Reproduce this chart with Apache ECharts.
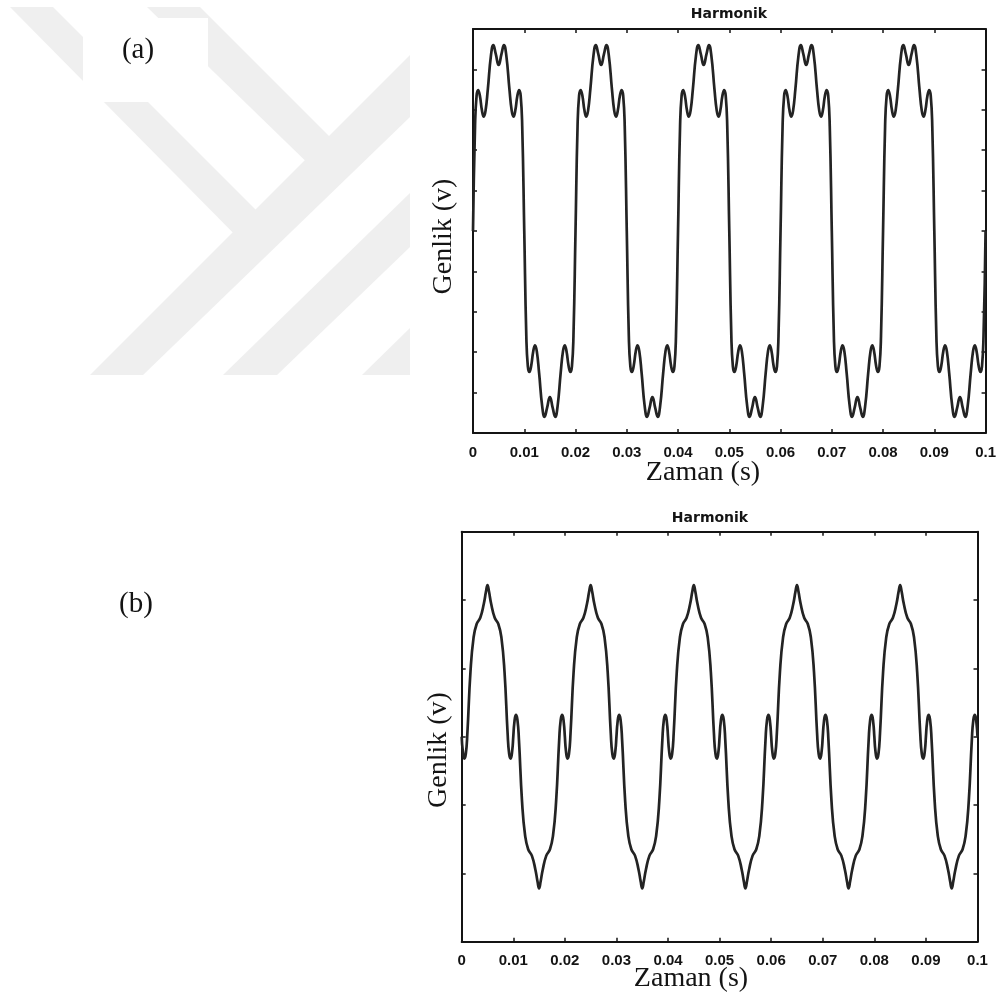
<!DOCTYPE html>
<html>
<head>
<meta charset="utf-8">
<script src="https://cdn.jsdelivr.net/npm/echarts@6/dist/echarts.min.js"></script>
<style>
  html, body { margin: 0; padding: 0; background: #ffffff; }
  #chart { width: 999px; height: 998px; }
</style>
</head>
<body>
<div id="chart"></div>
<script>
// Time-axis tick labels (seconds)
const zamanEtiketleri = ['0', '0.01', '0.02', '0.03', '0.04', '0.05', '0.06', '0.07', '0.08', '0.09', '0.1'];

// (a) harmonic signal: [time (s), amplitude]
const sinyalA = [
  [0,0],[0.0004,2.6],[0.0007,3.35],[0.001,3.49],[0.00135,3.34],[0.00175,2.98],[0.0021,2.83],[0.00245,2.98],[0.0029,3.52],[0.0035,4.34],[0.00396,4.6],[0.00445,4.38],[0.005,4.11],[0.00555,4.38],[0.00604,4.6],[0.0065,4.34],[0.0071,3.52],[0.00755,2.98],[0.0079,2.83],[0.00825,2.98],[0.00865,3.34],[0.009,3.49],[0.0093,3.35],[0.0096,2.6],
  [0.01,0],[0.0104,-2.6],[0.0107,-3.35],[0.011,-3.49],[0.01135,-3.34],[0.01175,-2.98],[0.0121,-2.83],[0.01245,-2.98],[0.0129,-3.52],[0.0135,-4.34],[0.01396,-4.6],[0.01445,-4.38],[0.015,-4.11],[0.01555,-4.38],[0.01604,-4.6],[0.0165,-4.34],[0.0171,-3.52],[0.01755,-2.98],[0.0179,-2.83],[0.01825,-2.98],[0.01865,-3.34],[0.019,-3.49],[0.0193,-3.35],[0.0196,-2.6],
  [0.02,0],[0.0204,2.6],[0.0207,3.35],[0.021,3.49],[0.02135,3.34],[0.02175,2.98],[0.0221,2.83],[0.02245,2.98],[0.0229,3.52],[0.0235,4.34],[0.02396,4.6],[0.02445,4.38],[0.025,4.11],[0.02555,4.38],[0.02604,4.6],[0.0265,4.34],[0.0271,3.52],[0.02755,2.98],[0.0279,2.83],[0.02825,2.98],[0.02865,3.34],[0.029,3.49],[0.0293,3.35],[0.0296,2.6],
  [0.03,0],[0.0304,-2.6],[0.0307,-3.35],[0.031,-3.49],[0.03135,-3.34],[0.03175,-2.98],[0.0321,-2.83],[0.03245,-2.98],[0.0329,-3.52],[0.0335,-4.34],[0.03396,-4.6],[0.03445,-4.38],[0.035,-4.11],[0.03555,-4.38],[0.03604,-4.6],[0.0365,-4.34],[0.0371,-3.52],[0.03755,-2.98],[0.0379,-2.83],[0.03825,-2.98],[0.03865,-3.34],[0.039,-3.49],[0.0393,-3.35],[0.0396,-2.6],
  [0.04,0],[0.0404,2.6],[0.0407,3.35],[0.041,3.49],[0.04135,3.34],[0.04175,2.98],[0.0421,2.83],[0.04245,2.98],[0.0429,3.52],[0.0435,4.34],[0.04396,4.6],[0.04445,4.38],[0.045,4.11],[0.04555,4.38],[0.04604,4.6],[0.0465,4.34],[0.0471,3.52],[0.04755,2.98],[0.0479,2.83],[0.04825,2.98],[0.04865,3.34],[0.049,3.49],[0.0493,3.35],[0.0496,2.6],
  [0.05,0],[0.0504,-2.6],[0.0507,-3.35],[0.051,-3.49],[0.05135,-3.34],[0.05175,-2.98],[0.0521,-2.83],[0.05245,-2.98],[0.0529,-3.52],[0.0535,-4.34],[0.05396,-4.6],[0.05445,-4.38],[0.055,-4.11],[0.05555,-4.38],[0.05604,-4.6],[0.0565,-4.34],[0.0571,-3.52],[0.05755,-2.98],[0.0579,-2.83],[0.05825,-2.98],[0.05865,-3.34],[0.059,-3.49],[0.0593,-3.35],[0.0596,-2.6],
  [0.06,0],[0.0604,2.6],[0.0607,3.35],[0.061,3.49],[0.06135,3.34],[0.06175,2.98],[0.0621,2.83],[0.06245,2.98],[0.0629,3.52],[0.0635,4.34],[0.06396,4.6],[0.06445,4.38],[0.065,4.11],[0.06555,4.38],[0.06604,4.6],[0.0665,4.34],[0.0671,3.52],[0.06755,2.98],[0.0679,2.83],[0.06825,2.98],[0.06865,3.34],[0.069,3.49],[0.0693,3.35],[0.0696,2.6],
  [0.07,0],[0.0704,-2.6],[0.0707,-3.35],[0.071,-3.49],[0.07135,-3.34],[0.07175,-2.98],[0.0721,-2.83],[0.07245,-2.98],[0.0729,-3.52],[0.0735,-4.34],[0.07396,-4.6],[0.07445,-4.38],[0.075,-4.11],[0.07555,-4.38],[0.07604,-4.6],[0.0765,-4.34],[0.0771,-3.52],[0.07755,-2.98],[0.0779,-2.83],[0.07825,-2.98],[0.07865,-3.34],[0.079,-3.49],[0.0793,-3.35],[0.0796,-2.6],
  [0.08,0],[0.0804,2.6],[0.0807,3.35],[0.081,3.49],[0.08135,3.34],[0.08175,2.98],[0.0821,2.83],[0.08245,2.98],[0.0829,3.52],[0.0835,4.34],[0.08396,4.6],[0.08445,4.38],[0.085,4.11],[0.08555,4.38],[0.08604,4.6],[0.0865,4.34],[0.0871,3.52],[0.08755,2.98],[0.0879,2.83],[0.08825,2.98],[0.08865,3.34],[0.089,3.49],[0.0893,3.35],[0.0896,2.6],
  [0.09,0],[0.0904,-2.6],[0.0907,-3.35],[0.091,-3.49],[0.09135,-3.34],[0.09175,-2.98],[0.0921,-2.83],[0.09245,-2.98],[0.0929,-3.52],[0.0935,-4.34],[0.09396,-4.6],[0.09445,-4.38],[0.095,-4.11],[0.09555,-4.38],[0.09604,-4.6],[0.0965,-4.34],[0.0971,-3.52],[0.09755,-2.98],[0.0979,-2.83],[0.09825,-2.98],[0.09865,-3.34],[0.099,-3.49],[0.0993,-3.35],[0.0996,-2.6],
  [0.1,0]
];

// (b) harmonic signal: [time (s), amplitude]
const sinyalB = [
  [0,0],[0.0002,-0.2],[0.0005,-0.32],[0.0008,-0.25],[0.0011,0.05],[0.0017,0.95],[0.0023,1.45],[0.0029,1.65],[0.0036,1.74],[0.0043,1.95],[0.0047,2.12],[0.005,2.22],[0.0053,2.12],[0.0057,1.95],[0.0064,1.74],[0.0071,1.65],[0.0077,1.45],[0.0083,0.95],[0.0089,0.05],[0.0092,-0.25],[0.0095,-0.32],[0.0098,-0.2],
  [0.01,0],[0.0102,0.2],[0.0105,0.32],[0.0108,0.25],[0.0111,-0.05],[0.0117,-0.95],[0.0123,-1.45],[0.0129,-1.65],[0.0136,-1.74],[0.0143,-1.95],[0.0147,-2.12],[0.015,-2.22],[0.0153,-2.12],[0.0157,-1.95],[0.0164,-1.74],[0.0171,-1.65],[0.0177,-1.45],[0.0183,-0.95],[0.0189,-0.05],[0.0192,0.25],[0.0195,0.32],[0.0198,0.2],
  [0.02,0],[0.0202,-0.2],[0.0205,-0.32],[0.0208,-0.25],[0.0211,0.05],[0.0217,0.95],[0.0223,1.45],[0.0229,1.65],[0.0236,1.74],[0.0243,1.95],[0.0247,2.12],[0.025,2.22],[0.0253,2.12],[0.0257,1.95],[0.0264,1.74],[0.0271,1.65],[0.0277,1.45],[0.0283,0.95],[0.0289,0.05],[0.0292,-0.25],[0.0295,-0.32],[0.0298,-0.2],
  [0.03,0],[0.0302,0.2],[0.0305,0.32],[0.0308,0.25],[0.0311,-0.05],[0.0317,-0.95],[0.0323,-1.45],[0.0329,-1.65],[0.0336,-1.74],[0.0343,-1.95],[0.0347,-2.12],[0.035,-2.22],[0.0353,-2.12],[0.0357,-1.95],[0.0364,-1.74],[0.0371,-1.65],[0.0377,-1.45],[0.0383,-0.95],[0.0389,-0.05],[0.0392,0.25],[0.0395,0.32],[0.0398,0.2],
  [0.04,0],[0.0402,-0.2],[0.0405,-0.32],[0.0408,-0.25],[0.0411,0.05],[0.0417,0.95],[0.0423,1.45],[0.0429,1.65],[0.0436,1.74],[0.0443,1.95],[0.0447,2.12],[0.045,2.22],[0.0453,2.12],[0.0457,1.95],[0.0464,1.74],[0.0471,1.65],[0.0477,1.45],[0.0483,0.95],[0.0489,0.05],[0.0492,-0.25],[0.0495,-0.32],[0.0498,-0.2],
  [0.05,0],[0.0502,0.2],[0.0505,0.32],[0.0508,0.25],[0.0511,-0.05],[0.0517,-0.95],[0.0523,-1.45],[0.0529,-1.65],[0.0536,-1.74],[0.0543,-1.95],[0.0547,-2.12],[0.055,-2.22],[0.0553,-2.12],[0.0557,-1.95],[0.0564,-1.74],[0.0571,-1.65],[0.0577,-1.45],[0.0583,-0.95],[0.0589,-0.05],[0.0592,0.25],[0.0595,0.32],[0.0598,0.2],
  [0.06,0],[0.0602,-0.2],[0.0605,-0.32],[0.0608,-0.25],[0.0611,0.05],[0.0617,0.95],[0.0623,1.45],[0.0629,1.65],[0.0636,1.74],[0.0643,1.95],[0.0647,2.12],[0.065,2.22],[0.0653,2.12],[0.0657,1.95],[0.0664,1.74],[0.0671,1.65],[0.0677,1.45],[0.0683,0.95],[0.0689,0.05],[0.0692,-0.25],[0.0695,-0.32],[0.0698,-0.2],
  [0.07,0],[0.0702,0.2],[0.0705,0.32],[0.0708,0.25],[0.0711,-0.05],[0.0717,-0.95],[0.0723,-1.45],[0.0729,-1.65],[0.0736,-1.74],[0.0743,-1.95],[0.0747,-2.12],[0.075,-2.22],[0.0753,-2.12],[0.0757,-1.95],[0.0764,-1.74],[0.0771,-1.65],[0.0777,-1.45],[0.0783,-0.95],[0.0789,-0.05],[0.0792,0.25],[0.0795,0.32],[0.0798,0.2],
  [0.08,0],[0.0802,-0.2],[0.0805,-0.32],[0.0808,-0.25],[0.0811,0.05],[0.0817,0.95],[0.0823,1.45],[0.0829,1.65],[0.0836,1.74],[0.0843,1.95],[0.0847,2.12],[0.085,2.22],[0.0853,2.12],[0.0857,1.95],[0.0864,1.74],[0.0871,1.65],[0.0877,1.45],[0.0883,0.95],[0.0889,0.05],[0.0892,-0.25],[0.0895,-0.32],[0.0898,-0.2],
  [0.09,0],[0.0902,0.2],[0.0905,0.32],[0.0908,0.25],[0.0911,-0.05],[0.0917,-0.95],[0.0923,-1.45],[0.0929,-1.65],[0.0936,-1.74],[0.0943,-1.95],[0.0947,-2.12],[0.095,-2.22],[0.0953,-2.12],[0.0957,-1.95],[0.0964,-1.74],[0.0971,-1.65],[0.0977,-1.45],[0.0983,-0.95],[0.0989,-0.05],[0.0992,0.25],[0.0995,0.32],[0.0998,0.2],
  [0.1,0]
];

const INK = '#141414';
const chart = echarts.init(document.getElementById('chart'), null, { renderer: 'canvas' });

function xEkseni(grid, pos) {
  return {
    type: 'value', gridIndex: grid, position: pos,
    min: 0, max: 0.1, interval: 0.01,
    axisLine: { show: true, onZero: false, lineStyle: { color: INK, width: 2 } },
    axisTick: { show: true, inside: true, length: 4, lineStyle: { color: INK, width: 1.5 } },
    axisLabel: pos === 'bottom' ? {
      show: true, margin: 12, color: INK, fontSize: 15, fontWeight: 'bold',
      fontFamily: 'Liberation Sans, Arial, sans-serif',
      formatter: v => zamanEtiketleri[Math.round(v / 0.01)]
    } : { show: false },
    splitLine: { show: false }
  };
}
function yEkseni(grid, pos, lim) {
  return {
    type: 'value', gridIndex: grid, position: pos,
    min: -lim, max: lim, interval: 1,
    axisLine: { show: true, onZero: false, lineStyle: { color: INK, width: 2 } },
    axisTick: { show: true, inside: true, length: 4, lineStyle: { color: INK, width: 1.5 } },
    axisLabel: { show: false },
    splitLine: { show: false }
  };
}

const serif = 'Liberation Serif, Times New Roman, serif';
function yazi(txt, x, y, size, font, weight, rot) {
  return {
    type: 'text', x: x, y: y, rotation: rot || 0, silent: true,
    style: { text: txt, fill: INK, font: (weight || 'normal') + ' ' + size + 'px ' + font,
             align: 'center', verticalAlign: 'middle' }
  };
}

// Light background emblem in the upper-left corner
const amblem = '#efefef';
const poly = pts => ({ type: 'polygon', silent: true, shape: { points: pts }, style: { fill: amblem } });

chart.setOption({
  animation: false,
  backgroundColor: '#ffffff',
  grid: [
    { left: 473, top: 29, width: 513.7, height: 404 },
    { left: 461.7, top: 531.7, width: 515.8, height: 410 }
  ],
  xAxis: [xEkseni(0, 'bottom'), xEkseni(0, 'top'), xEkseni(1, 'bottom'), xEkseni(1, 'top')],
  yAxis: [yEkseni(0, 'left', 5), yEkseni(0, 'right', 5), yEkseni(1, 'left', 3), yEkseni(1, 'right', 3)],
  series: [
    { type: 'line', xAxisIndex: 0, yAxisIndex: 0, data: sinyalA, smooth: true, showSymbol: false,
      lineStyle: { color: '#232323', width: 2.7 } },
    { type: 'line', xAxisIndex: 2, yAxisIndex: 2, data: sinyalB, smooth: true, showSymbol: false,
      lineStyle: { color: '#232323', width: 2.7 } }
  ],
  graphic: [
    poly([[10,7],[53,7],[280,234],[257,257]]),
    poly([[147,7],[200,7],[345,152],[320,175]]),
    poly([[90,375],[143,375],[410,117],[410,55]]),
    poly([[223,375],[277,375],[410,247],[410,193]]),
    poly([[362,375],[410,375],[410,328]]),
    { type: 'rect', silent: true, shape: { x: 83, y: 18, width: 125, height: 84 }, style: { fill: '#ffffff' } },
    yazi('(a)', 138, 50, 29, serif),
    yazi('(b)', 136, 604, 29, serif),
    yazi('Harmonik', 729, 14.5, 14, 'DejaVu Sans, sans-serif', 'bold'),
    yazi('Harmonik', 710, 518.5, 14, 'DejaVu Sans, sans-serif', 'bold'),
    yazi('Zaman (s)', 703, 473, 28, serif),
    yazi('Zaman (s)', 691, 979, 28, serif),
    yazi('Genlik (v)', 444, 236.5, 28, serif, 'normal', Math.PI / 2),
    yazi('Genlik (v)', 439, 750, 28, serif, 'normal', Math.PI / 2)
  ]
});
</script>
</body>
</html>
